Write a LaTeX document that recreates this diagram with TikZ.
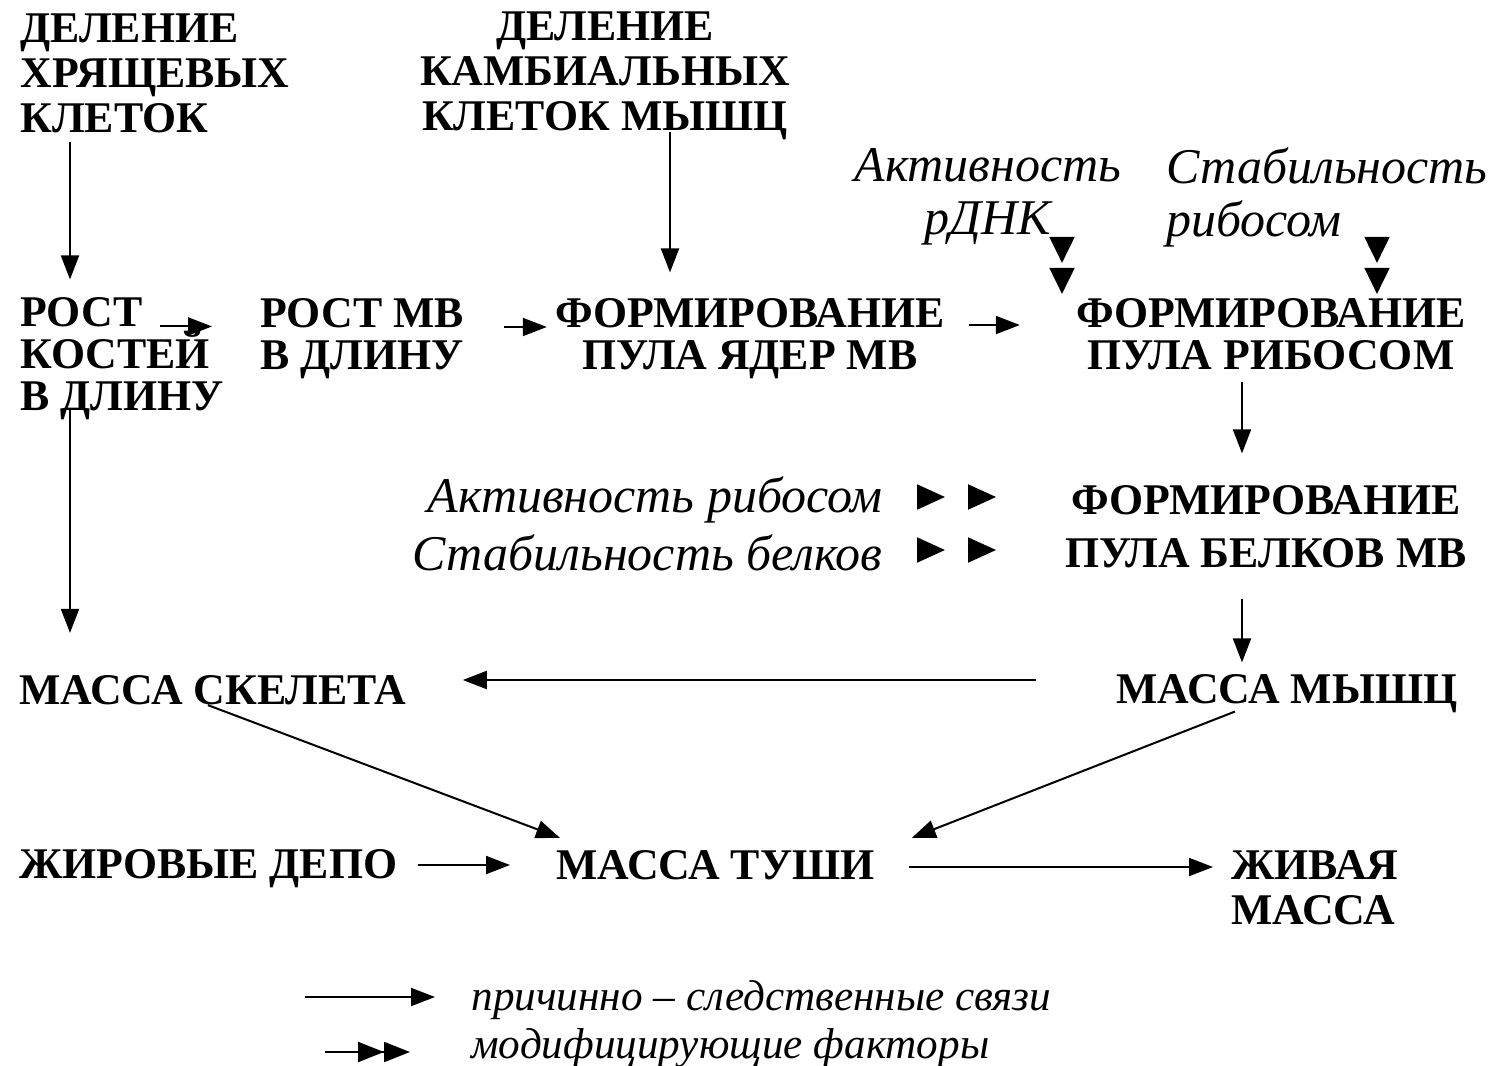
\documentclass[tikz,border=0pt]{standalone}
\usepackage{fontspec}
\setmainfont{Liberation Serif}
\usetikzlibrary{arrows.meta,calc}
\begin{document}
\begin{tikzpicture}[x=0.5pt,y=-0.5pt,
  captxt/.style={font=\fontsize{21.9}{21}\selectfont\bfseries, inner sep=2pt},
  captop/.style={font=\fontsize{21.9}{22.5}\selectfont\bfseries, inner sep=2pt},
  lab/.style={font=\fontsize{25}{26.5}\selectfont\itshape, inner sep=2pt},
  leg/.style={font=\fontsize{21.6}{22}\selectfont\itshape, inner sep=2pt},
  arr/.style={line width=1pt, -{Triangle[length=12pt,width=9pt]}},
  modh/.style={line width=1pt, white, -{Triangle[black,length=14pt,width=12.5pt,sep=11.5pt]Triangle[black,length=14pt,width=12.5pt]}},
  modv/.style={line width=1pt, white, -{Triangle[black,length=13pt,width=12.5pt,sep=2.5pt]Triangle[black,length=13pt,width=12.5pt]}},
  modl/.style={line width=1pt, -{Triangle[length=13pt,width=10pt]Triangle[length=13pt,width=10pt]}}
]
\fill[white] (0,0) rectangle (1490,1066);
\path[use as bounding box] (0,0) rectangle (1490,1066);

% top row
\node[captop, anchor=west, align=left] (dhk) at (16,73) {ДЕЛЕНИЕ\\ХРЯЩЕВЫХ\\КЛЕТОК};
\node[captop, align=center] (dkm) at (605,76) {ДЕЛЕНИЕ\\КАМБИАЛЬНЫХ\\КЛЕТОК МЫШЦ};
\node[lab, align=center] (akt) at (988,197) {Активность\\рДНК};
\node[lab, anchor=west, align=left] (stab) at (1162,197) {Стабильность\\рибосом};

% second row
\node[captxt, anchor=west, align=left] (rk) at (16,359) {РОСТ\\КОСТЕЙ\\В ДЛИНУ};
\node[captxt, anchor=west, align=left] (rmv) at (256,339) {РОСТ МВ\\В ДЛИНУ};
\node[captxt, align=center] (fyad) at (750,339) {ФОРМИРОВАНИЕ\\ПУЛА ЯДЕР МВ};
\node[captxt, align=center] (frib) at (1271,334) {ФОРМИРОВАНИЕ\\ПУЛА РИБОСОМ};

% third row
\node[lab, anchor=east] (arib) at (887,500) {Активность рибосом};
\node[lab, anchor=east] (sbel) at (887,553) {Стабильность белков};
\node[captxt, align=center, font=\fontsize{21.9}{26.5}\selectfont\bfseries] (fbel) at (1266,527) {ФОРМИРОВАНИЕ\\ПУЛА БЕЛКОВ МВ};

% fourth row
\node[captxt, anchor=west] (msk) at (15,690) {МАССА СКЕЛЕТА};
\node[captxt, anchor=west] (mm) at (1112,694) {МАССА МЫШЦ};

% fifth row
\node[captxt, anchor=west] (zhd) at (15,869) {ЖИРОВЫЕ ДЕПО};
\node[captxt, anchor=west] (mt) at (552,865) {МАССА ТУШИ};
\node[captxt, anchor=west, align=left, font=\fontsize{21.9}{22.5}\selectfont\bfseries] (zhm) at (1227,888) {ЖИВАЯ\\МАССА};

% legend
\coordinate (l1a) at (305,997);
\coordinate (l1b) at (435,997);
\coordinate (l2a) at (325,1052);
\coordinate (l2b) at (410,1052);
\node[leg, anchor=west] (t1) at (467,1000) {причинно – следственные связи};
\node[leg, anchor=west] (t2) at (467,1048) {модифицирующие факторы};
\draw[arr] (l1a) -- (l1b);
\draw[modl] (l2a) -- (l2b);

% connectors
\draw[arr] (70,0 |- dhk.south) ++(0,5) -- ($(70,0 |- rk.north)+(0,-14)$);
\draw[arr] (670,0 |- dkm.south) ++(0,-12) -- ($(670,0 |- fyad.north)+(0,-22)$);
\draw[arr] ($(rk.north west)+(144,33)$) -- ($(rk.north west)+(196,33)$);
\coordinate (c1) at ($(rmv.east)+(36,-12)$);
\draw[arr, shorten >=2pt] (c1) -- (c1 -| fyad.west);
\coordinate (c2) at ($(fyad.east)+(20,-14)$);
\draw[arr, shorten >=26pt] (c2) -- (c2 -| frib.west);
\coordinate (c3) at ($(frib.south)+(-29,8)$);
\draw[arr, shorten >=14pt] (c3) -- (c3 |- fbel.north);
\coordinate (c4) at ($(fbel.south)+(-24,26)$);
\draw[arr, shorten >=4pt] (c4) -- (c4 |- mm.north);
\draw[arr] ($(70,0 |- rk.south)+(0,-15)$) -- ($(70,0 |- msk.north)+(0,-38)$);
\coordinate (c5) at ($(mm.west)+(-76,-14)$);
\draw[arr, shorten >=26pt] (c5) -- (c5 -| msk.east);
\draw[arr] ($(msk.south)+(-5,-4)$) -- ($(mt.north west)+(8,-8)$);
\draw[arr] ($(mm.south)+(-52,-6)$) -- ($(mt.north east)+(33,-8)$);
\draw[arr] ($(zhd.east)+(16,-4)$) -- ($(mt.west)+(-42,0)$);
\draw[arr] ($(mt.east)+(30,2)$) -- ($(mt.east -| zhm.west)+(-14,2)$);

% modifying factors
\coordinate (m1a) at (1062,225);
\draw[modv] (m1a) -- (m1a |- frib.north);
\coordinate (m2a) at (1377,225);
\draw[modv] (m2a) -- (m2a |- frib.north);
\coordinate (m3b) at (996,497);
\draw[modh] ($(arib.east)+(28,-3)$) -- (m3b);
\coordinate (m4b) at (996,550);
\draw[modh] ($(sbel.east)+(28,-3)$) -- (m4b);
\end{tikzpicture}
\end{document}
